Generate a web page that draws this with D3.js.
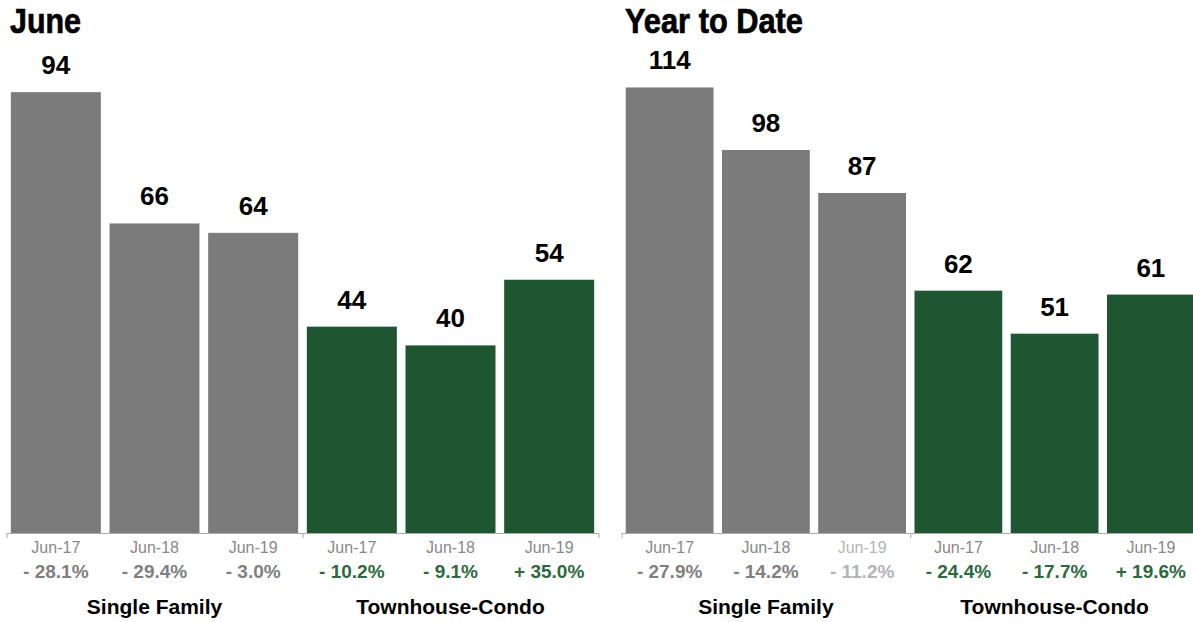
<!DOCTYPE html>
<html>
<head>
<meta charset="utf-8">
<script src="https://cdn.jsdelivr.net/npm/d3@7/dist/d3.min.js"></script>
<style>
  html, body { margin: 0; padding: 0; background: #fff; }
  svg { display: block; }
</style>
</head>
<body>
<svg id="chart" width="1193" height="622"></svg>
<script>
// Sales counts by property type, June vs. year to date
const periods = ["Jun-17", "Jun-18", "Jun-19"];
const groups = ["Single Family", "Townhouse-Condo"];

const juneSingleFamily = [94, 66, 64];
const juneTownhouse = [44, 40, 54];
const juneSingleFamilyChange = [-28.1, -29.4, -3.0];
const juneTownhouseChange = [-10.2, -9.1, 35.0];

const ytdSingleFamily = [114, 98, 87];
const ytdTownhouse = [62, 51, 61];
const ytdSingleFamilyChange = [-27.9, -14.2, -11.2];
const ytdTownhouseChange = [-24.4, -17.7, 19.6];

const panels = [
  { title: "June", titleWidth: 71, x0: 6.5, x1: 598.5, yMax: 100,
    values: [juneSingleFamily, juneTownhouse],
    changes: [juneSingleFamilyChange, juneTownhouseChange], muted: [] },
  { title: "Year to Date", titleWidth: 178, x0: 621.5, x1: 1199, yMax: 120,
    values: [ytdSingleFamily, ytdTownhouse],
    changes: [ytdSingleFamilyChange, ytdTownhouseChange], muted: ["0-2"] }
];

const barColors = ["#7a7b7a", "#1e5631"];
const changeColors = ["#808080", "#2b6a3c"];
const mutedColor = "#b4b4b4";
const baseY = 533;
const topY = 64;
const sans = "'Liberation Sans', Arial, Helvetica, sans-serif";

const fmtChange = v => (v < 0 ? "- " : "+ ") + d3.format(".1f")(Math.abs(v)) + "%";

const svg = d3.select("#chart");

panels.forEach(p => {
  const g = svg.append("g");
  const rows = [];
  groups.forEach((grp, gi) => {
    periods.forEach((per, pi) => {
      rows.push({ key: gi + "-" + pi, group: gi, period: per,
                  value: p.values[gi][pi], change: p.changes[gi][pi] });
    });
  });

  const x = d3.scaleBand()
    .domain(rows.map(d => d.key))
    .range([p.x0, p.x1])
    .paddingInner(0.088)
    .paddingOuter(0.044);

  const y = d3.scaleLinear().domain([0, p.yMax]).range([baseY, topY]);

  // Title, condensed to a fixed width
  g.append("text")
    .attr("x", p.x0 + 3.5)
    .attr("y", 33)
    .attr("font-family", sans)
    .attr("font-weight", "bold")
    .attr("font-size", 35)
    .attr("textLength", p.titleWidth)
    .attr("lengthAdjust", "spacingAndGlyphs")
    .attr("fill", "#000")
    .attr("stroke", "#000")
    .attr("stroke-width", 0.7)
    .text(p.title);

  // Bars
  g.selectAll("rect.bar").data(rows).join("rect")
    .attr("class", "bar")
    .attr("x", d => x(d.key))
    .attr("width", x.bandwidth())
    .attr("y", d => y(d.value))
    .attr("height", d => baseY - y(d.value))
    .attr("fill", d => barColors[d.group]);

  // Value labels
  g.selectAll("text.val").data(rows).join("text")
    .attr("class", "val")
    .attr("x", d => x(d.key) + x.bandwidth() / 2)
    .attr("y", d => y(d.value) - 18)
    .attr("text-anchor", "middle")
    .attr("font-family", sans)
    .attr("font-weight", "bold")
    .attr("font-size", 26)
    .attr("fill", "#000")
    .text(d => d.value);

  // Axis with ticks at group boundaries
  const gx = d3.scaleLinear().domain([0, groups.length]).range([p.x0, p.x1]);
  const axis = g.append("g")
    .attr("transform", `translate(0,${baseY})`)
    .call(d3.axisBottom(gx).tickValues(d3.range(groups.length + 1))
      .tickFormat("").tickSizeInner(5).tickSizeOuter(0));
  axis.selectAll("path, line").attr("stroke", "#aaaaaa").attr("stroke-width", 1);

  // Period labels
  g.selectAll("text.per").data(rows).join("text")
    .attr("class", "per")
    .attr("x", d => x(d.key) + x.bandwidth() / 2)
    .attr("y", 553)
    .attr("text-anchor", "middle")
    .attr("font-family", sans)
    .attr("font-size", 16)
    .attr("fill", d => p.muted.includes(d.key) ? mutedColor : "#888888")
    .text(d => d.period);

  // Change labels
  g.selectAll("text.chg").data(rows).join("text")
    .attr("class", "chg")
    .attr("x", d => x(d.key) + x.bandwidth() / 2)
    .attr("y", 578)
    .attr("text-anchor", "middle")
    .attr("font-family", sans)
    .attr("font-weight", "bold")
    .attr("font-size", 19)
    .attr("fill", d => p.muted.includes(d.key) ? mutedColor : changeColors[d.group])
    .text(d => fmtChange(d.change));

  // Group labels
  g.selectAll("text.grp").data(groups).join("text")
    .attr("class", "grp")
    .attr("x", (d, i) => (gx(i) + gx(i + 1)) / 2)
    .attr("y", 614)
    .attr("text-anchor", "middle")
    .attr("font-family", sans)
    .attr("font-weight", "bold")
    .attr("font-size", 21)
    .attr("fill", "#000")
    .text(d => d);
});
</script>
</body>
</html>
